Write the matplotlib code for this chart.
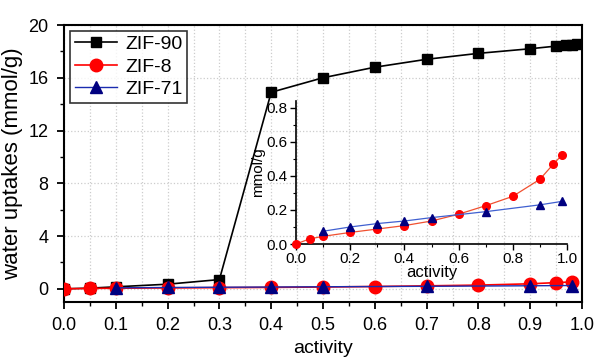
import matplotlib
matplotlib.use("Agg")
import matplotlib.pyplot as plt
from matplotlib.ticker import MultipleLocator

plt.rcParams['font.family'] = ['Liberation Sans', 'DejaVu Sans']

# Data
x_zif90 = [0.0, 0.05, 0.1, 0.2, 0.3, 0.4, 0.5, 0.6, 0.7, 0.8, 0.9, 0.95, 0.97, 0.98, 0.99]
y_zif90 = [0.0, 0.05, 0.15, 0.35, 0.7, 14.9, 16.0, 16.8, 17.4, 17.85, 18.2, 18.4, 18.45, 18.5, 18.55]

x_zif8 = [0.0, 0.05, 0.1, 0.2, 0.3, 0.4, 0.5, 0.6, 0.7, 0.8, 0.9, 0.95, 0.98]
y_zif8 = [0.0, 0.03, 0.045, 0.068, 0.088, 0.108, 0.135, 0.175, 0.225, 0.28, 0.38, 0.47, 0.52]

x_zif71 = [0.1, 0.2, 0.3, 0.4, 0.5, 0.7, 0.9, 0.98]
y_zif71 = [0.075, 0.1, 0.12, 0.135, 0.155, 0.19, 0.23, 0.25]

main_xticks = [0.0, 0.1, 0.2, 0.3, 0.4, 0.5, 0.6, 0.7, 0.8, 0.9, 1.0]
main_yticks = [0, 4, 8, 12, 16, 20]

fig = plt.figure(figsize=(5.96, 3.6), dpi=100)
ax = fig.add_axes([64/596, 1-302/360, 518/596, 277/360])

ax.plot(x_zif90, y_zif90, color='black', marker='s', ms=7, lw=1.2, label='ZIF-90', zorder=3)
ax.plot(x_zif8, y_zif8, color='red', marker='o', ms=9, lw=1.2, label='ZIF-8', zorder=4)
ax.plot(x_zif71, y_zif71, color='#1a2cb0', marker='^', ms=9, lw=1.0,
        markerfacecolor='#000080', markeredgecolor='#000080', label='ZIF-71', zorder=5)

ax.set_xlim(0, 1.0)
ax.set_ylim(-1.0, 20)
ax.set_xticks(main_xticks)
ax.set_yticks(main_yticks)
ax.xaxis.set_minor_locator(MultipleLocator(0.05))
ax.yaxis.set_minor_locator(MultipleLocator(2))
ax.tick_params(which='major', direction='out', length=5, width=1.3, labelsize=13, pad=6)
ax.tick_params(which='minor', direction='out', length=3, width=1.0)
ax.grid(True, which='major', axis='y', linestyle=':', color='#cccccc', lw=0.9)
ax.grid(True, which='both', axis='x', linestyle=':', color='#cccccc', lw=0.9)
for s in ax.spines.values():
    s.set_linewidth(1.5)
ax.set_xlabel('activity', fontsize=14, labelpad=4)
ax.set_ylabel('water uptakes (mmol/g)', fontsize=16, labelpad=4)

leg = ax.legend(loc='upper left', fontsize=14, frameon=True, fancybox=False,
                edgecolor='black', borderpad=0.25, handlelength=2.2,
                labelspacing=0.25, handletextpad=0.4, borderaxespad=0.3)
leg.get_frame().set_linewidth(1.2)

# Inset
ins = fig.add_axes([296/596, 1-244/360, 271/596, 143/360])
ins.patch.set_alpha(0.0)
ins.plot(x_zif8, y_zif8, color='#f05030', marker='o', ms=5.5, lw=0.9,
         markerfacecolor='red', markeredgecolor='red', zorder=4)
ins.plot(x_zif71, y_zif71, color='#4060d0', marker='^', ms=5.5, lw=0.9,
         markerfacecolor='#000080', markeredgecolor='#000080', zorder=5)
ins.set_xlim(0, 1.0)
ins.set_ylim(0, 0.84)
ins.set_xticks([0.0, 0.2, 0.4, 0.6, 0.8, 1.0])
ins.set_yticks([0.0, 0.2, 0.4, 0.6, 0.8])
ins.xaxis.set_minor_locator(MultipleLocator(0.1))
ins.yaxis.set_minor_locator(MultipleLocator(0.1))
ins.spines['top'].set_visible(False)
ins.spines['right'].set_visible(False)
ins.spines['left'].set_linewidth(1.2)
ins.spines['bottom'].set_linewidth(1.2)
ins.tick_params(which='major', direction='out', length=4, width=1.0, labelsize=11, pad=2)
ins.tick_params(which='minor', direction='out', length=2, width=0.8)
ins.set_xlabel('activity', fontsize=12, labelpad=-1)
ins.set_ylabel('mmol/g', fontsize=11, labelpad=1)
for m in ins.lines:
    m.set_clip_on(False)

fig.savefig('out.png', dpi=100)
